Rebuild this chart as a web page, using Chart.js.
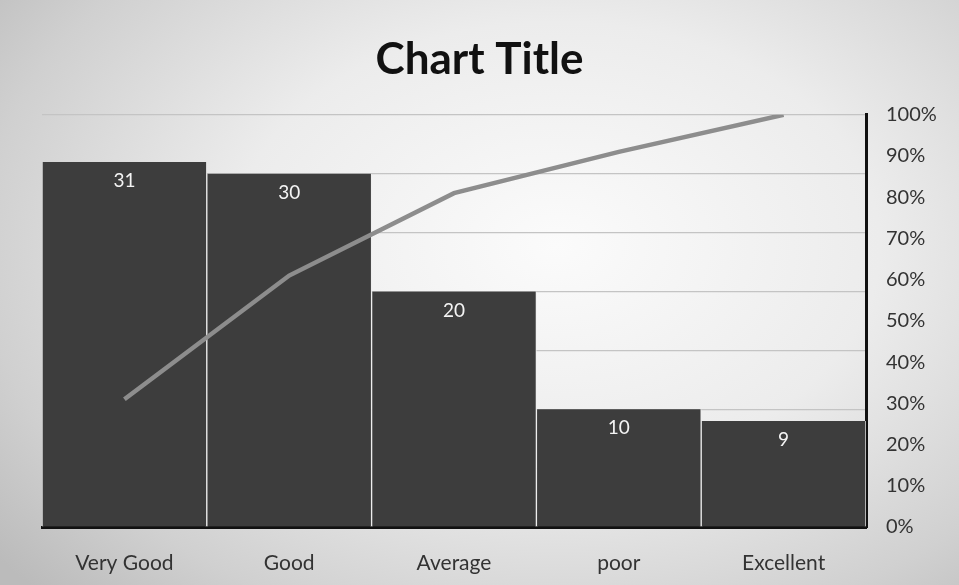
<!DOCTYPE html>
<html>
<head>
<meta charset="utf-8">
<script src="https://cdn.jsdelivr.net/npm/chart.js@4/dist/chart.umd.min.js"></script>
<style>
html,body{margin:0;padding:0;}
body{width:959px;height:585px;overflow:hidden;
background:radial-gradient(ellipse 75% 85% at 58% 42%, #fbfbfb 0%, #ececec 45%, #d0d0d0 80%, #bbbbbb 100%);}
#wrap{position:absolute;left:0;top:0;width:959px;height:585px;}
</style>
</head>
<body>
<div id="wrap"><canvas id="c" width="959" height="585"></canvas></div>
<script>
const categories = ["Very Good", "Good", "Average", "poor", "Excellent"];
const counts = [31, 30, 20, 10, 9];
const cumulativePct = [31, 61, 81, 91, 100];
const countAxisMax = 35;
const countAxisStep = 5;
const pctTickStep = 10;

const barLabels = {
  id: 'barLabels',
  afterDatasetsDraw(chart) {
    const ctx = chart.ctx;
    const meta = chart.getDatasetMeta(1);
    ctx.save();
    ctx.fillStyle = '#f4f4f4';
    ctx.font = '19px Lato';
    ctx.textAlign = 'center';
    ctx.textBaseline = 'middle';
    meta.data.forEach((el, i) => {
      ctx.fillText(String(counts[i]), el.x, el.y + 19);
    });
    ctx.restore();
  }
};

new Chart(document.getElementById('c'), {
  data: {
    labels: categories,
    datasets: [
      {
        type: 'line',
        data: cumulativePct,
        yAxisID: 'yPct',
        borderColor: '#8d8d8d',
        borderWidth: 4.5,
        pointRadius: 0,
        tension: 0,
        order: 0
      },
      {
        type: 'bar',
        data: counts,
        yAxisID: 'yCount',
        backgroundColor: '#3d3d3d',
        borderColor: '#eeeeee',
        borderWidth: {top: 0, bottom: 0, left: 1, right: 1},
        borderSkipped: false,
        barPercentage: 1,
        categoryPercentage: 1,
        order: 1
      }
    ]
  },
  options: {
    responsive: false,
    animation: false,
    devicePixelRatio: 1,
    layout: {padding: {left: 0, right: 0, top: 0, bottom: 0}},
    plugins: {
      legend: {display: false},
      tooltip: {enabled: false},
      title: {
        display: true,
        text: 'Chart Title',
        color: '#111',
        font: {family: 'Lato', size: 44, weight: 'bold'},
        padding: {top: 33, bottom: 29}
      }
    },
    scales: {
      x: {
        grid: {display: false},
        border: {display: true, color: '#111', width: 3},
        ticks: {color: '#333', font: {family: 'Lato', size: 21}, padding: 16},
        afterFit(scale) { scale.height = 58; }
      },
      yCount: {
        position: 'left',
        min: 0,
        max: countAxisMax,
        ticks: {display: false, stepSize: countAxisStep},
        grid: {color: '#c4c4c4', lineWidth: 1.2, drawTicks: false},
        border: {display: false},
        afterFit(scale) { scale.width = 42; }
      },
      yPct: {
        position: 'right',
        min: 0,
        max: 100,
        ticks: {stepSize: pctTickStep, color: '#333', font: {family: 'Lato', size: 20}, padding: 20,
          callback: v => v + '%'},
        grid: {display: false, drawTicks: false},
        border: {display: true, color: '#111', width: 3},
        afterFit(scale) { scale.width = 93; }
      }
    }
  },
  plugins: [barLabels]
});
</script>
</body>
</html>
